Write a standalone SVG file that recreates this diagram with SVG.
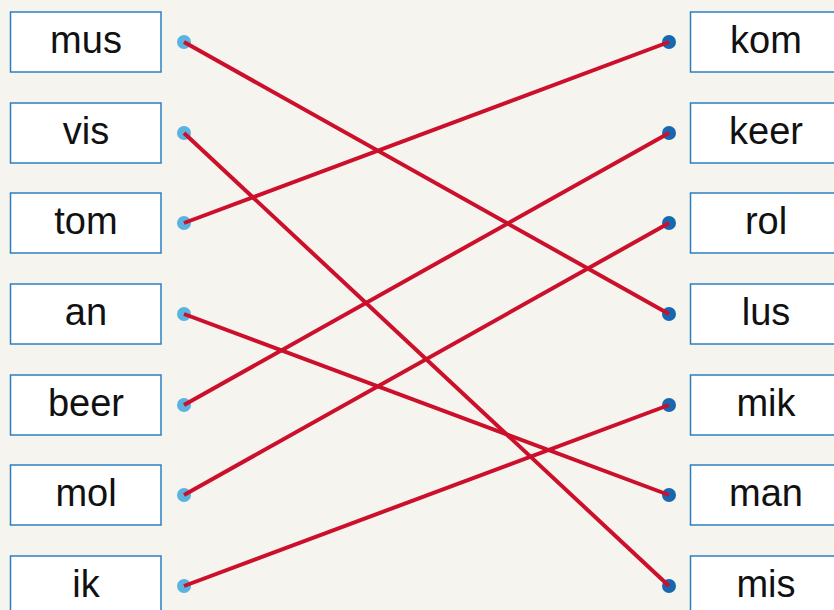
<svg xmlns="http://www.w3.org/2000/svg" width="834" height="610" viewBox="0 0 834 610">
<style>
.box{fill:#fff;stroke:#2b7fc1;stroke-width:1.5}
.t{font-family:"Liberation Sans",Arial,sans-serif;font-size:38px;fill:#111;text-anchor:middle}
.ld{fill:#5ab3e0}
.rd{fill:#1768b0}
.c line{stroke:#cc0f2b;stroke-width:4;stroke-linecap:butt}
</style>
<rect width="834" height="610" fill="#f5f4ee"/>
<g id="l-mus"><rect class="box" x="10.5" y="12" width="150.5" height="60"/><text class="t" x="86" y="53">mus</text><circle class="ld" cx="184" cy="42" r="7"/></g>
<g id="l-vis"><rect class="box" x="10.5" y="103" width="150.5" height="60"/><text class="t" x="86" y="144">vis</text><circle class="ld" cx="184" cy="133" r="7"/></g>
<g id="l-tom"><rect class="box" x="10.5" y="193" width="150.5" height="60"/><text class="t" x="86" y="234">tom</text><circle class="ld" cx="184" cy="223" r="7"/></g>
<g id="l-an"><rect class="box" x="10.5" y="284" width="150.5" height="60"/><text class="t" x="86" y="325">an</text><circle class="ld" cx="184" cy="314" r="7"/></g>
<g id="l-beer"><rect class="box" x="10.5" y="375" width="150.5" height="60"/><text class="t" x="86" y="416">beer</text><circle class="ld" cx="184" cy="405" r="7"/></g>
<g id="l-mol"><rect class="box" x="10.5" y="465" width="150.5" height="60"/><text class="t" x="86" y="506">mol</text><circle class="ld" cx="184" cy="495" r="7"/></g>
<g id="l-ik"><rect class="box" x="10.5" y="556" width="150.5" height="60"/><text class="t" x="86" y="597">ik</text><circle class="ld" cx="184" cy="586" r="7"/></g>
<g id="r-kom"><rect class="box" x="690.5" y="12" width="150.5" height="60"/><text class="t" x="766" y="53">kom</text><circle class="rd" cx="669" cy="42" r="7"/></g>
<g id="r-keer"><rect class="box" x="690.5" y="103" width="150.5" height="60"/><text class="t" x="766" y="144">keer</text><circle class="rd" cx="669" cy="133" r="7"/></g>
<g id="r-rol"><rect class="box" x="690.5" y="193" width="150.5" height="60"/><text class="t" x="766" y="234">rol</text><circle class="rd" cx="669" cy="223" r="7"/></g>
<g id="r-lus"><rect class="box" x="690.5" y="284" width="150.5" height="60"/><text class="t" x="766" y="325">lus</text><circle class="rd" cx="669" cy="314" r="7"/></g>
<g id="r-mik"><rect class="box" x="690.5" y="375" width="150.5" height="60"/><text class="t" x="766" y="416">mik</text><circle class="rd" cx="669" cy="405" r="7"/></g>
<g id="r-man"><rect class="box" x="690.5" y="465" width="150.5" height="60"/><text class="t" x="766" y="506">man</text><circle class="rd" cx="669" cy="495" r="7"/></g>
<g id="r-mis"><rect class="box" x="690.5" y="556" width="150.5" height="60"/><text class="t" x="766" y="597">mis</text><circle class="rd" cx="669" cy="586" r="7"/></g>
<g class="c" id="connectors">
<line x1="184" y1="42" x2="669" y2="314"/>
<line x1="184" y1="133" x2="669" y2="586"/>
<line x1="184" y1="223" x2="669" y2="42"/>
<line x1="184" y1="314" x2="669" y2="495"/>
<line x1="184" y1="405" x2="669" y2="133"/>
<line x1="184" y1="495" x2="669" y2="223"/>
<line x1="184" y1="586" x2="669" y2="405"/>
</g>
</svg>
